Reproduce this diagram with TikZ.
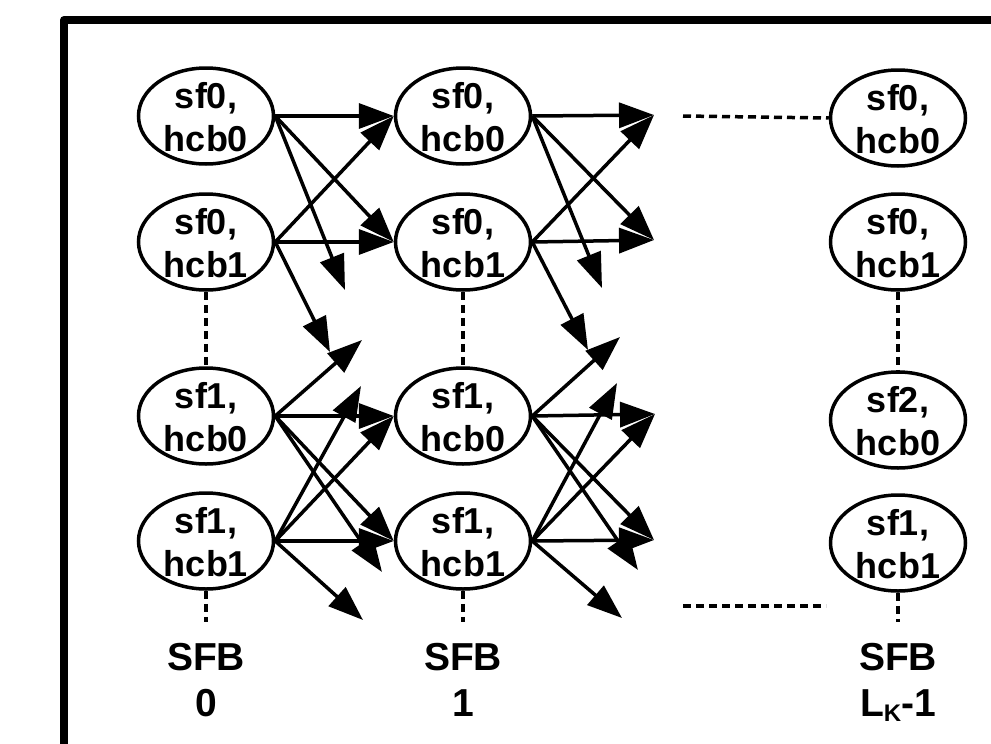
\documentclass[tikz,border=0pt]{standalone}
\usepackage{fontspec}
\setmainfont{Liberation Sans}
\usetikzlibrary{shapes.geometric,arrows.meta}
\begin{document}
\begin{tikzpicture}[x=1pt,y=-1pt,
 ell/.style={ellipse,draw,line width=3.5pt,minimum width=135pt,minimum height=96pt,inner sep=0pt},
 txt/.style={inner sep=0pt,align=center,yshift=-1.5pt,font=\fontsize{36}{43}\selectfont\bfseries},
 lab/.style={inner sep=0pt,align=center,anchor=north,font=\fontsize{39}{46}\selectfont\bfseries},
 arr/.style={line width=3.5pt,-{Triangle[length=35pt,width=25pt]}},
 dots/.style={line width=3.5pt,dash pattern=on 8pt off 5pt}]
\useasboundingbox (0,0) rectangle (991,744);
\draw[line width=8pt,line join=round] (64,790) -- (64,20) -- (1030,20);
% column 0
\node[ell] (a1) at (206,116) {}; \node[txt] (a1t) at (a1.center) {sf0,\\hcb0};
\node[ell] (a2) at (206,242) {}; \node[txt] (a2t) at (a2.center) {sf0,\\hcb1};
\node[ell] (a3) at (206,416) {}; \node[txt] (a3t) at (a3.center) {sf1,\\hcb0};
\node[ell] (a4) at (206,541) {}; \node[txt] (a4t) at (a4.center) {sf1,\\hcb1};
% column 1
\node[ell] (b1) at (463,116) {}; \node[txt] (b1t) at (b1.center) {sf0,\\hcb0};
\node[ell] (b2) at (463,242) {}; \node[txt] (b2t) at (b2.center) {sf0,\\hcb1};
\node[ell] (b3) at (463,416) {}; \node[txt] (b3t) at (b3.center) {sf1,\\hcb0};
\node[ell] (b4) at (463,541) {}; \node[txt] (b4t) at (b4.center) {sf1,\\hcb1};
% column 2
\node[ell] (c1) at (898,118) {}; \node[txt] (c1t) at (c1.center) {sf0,\\hcb0};
\node[ell] (c2) at (898,242) {}; \node[txt] (c2t) at (c2.center) {sf0,\\hcb1};
\node[ell] (c3) at (898,420) {}; \node[txt] (c3t) at (c3.center) {sf2,\\hcb0};
\node[ell] (c4) at (898,543) {}; \node[txt] (c4t) at (c4.center) {sf1,\\hcb1};
% labels
\node[lab] (l0) at (206,643) {SFB\\0};
\node[lab] (l1) at (463,643) {SFB\\1};
\node[lab] (l2) at (898,643) {SFB\\L{\fontsize{24}{24}\selectfont\raisebox{-5pt}{K}}-1};
% free ends
\coordinate (p1) at (345,290);
\coordinate (p2) at (330,352);
\coordinate (p3) at (362,340);
\coordinate (p4) at (382,572);
\coordinate (p5) at (361,386);
\coordinate (p6) at (363,620);
\coordinate (t1) at (654,115);
\coordinate (t2) at (654,240);
\coordinate (t3) at (655,414);
\coordinate (t4) at (654,540);
\coordinate (q1) at (602,288);
\coordinate (q2) at (588,350);
\coordinate (q3) at (620,337);
\coordinate (q4) at (638,570);
\coordinate (q5) at (617,383);
\coordinate (q6) at (622,618);
% column 0 arrows
\draw[arr] (a1.east) -- (b1.west);
\draw[arr] (a1.east) -- (b2.west);
\draw[arr] (a1.east) -- (p1);
\draw[arr] (a2.east) -- (b1.west);
\draw[arr] (a2.east) -- (b2.west);
\draw[arr] (a2.east) -- (p2);
\draw[arr] (a3.east) -- (p3);
\draw[arr] (a3.east) -- (b3.west);
\draw[arr] (a3.east) -- (b4.west);
\draw[arr] (a3.east) -- (p4);
\draw[arr] (a4.east) -- (b4.west);
\draw[arr] (a4.east) -- (b3.west);
\draw[arr] (a4.east) -- (p5);
\draw[arr] (a4.east) -- (p6);
% column 1 arrows
\draw[arr] (b1.east) -- (t1);
\draw[arr] (b1.east) -- (t2);
\draw[arr] (b1.east) -- (q1);
\draw[arr] (b2.east) -- (t1);
\draw[arr] (b2.east) -- (t2);
\draw[arr] (b2.east) -- (q2);
\draw[arr] (b3.east) -- (q3);
\draw[arr] (b3.east) -- (t3);
\draw[arr] (b3.east) -- (t4);
\draw[arr] (b3.east) -- (q4);
\draw[arr] (b4.east) -- (t4);
\draw[arr] (b4.east) -- (t3);
\draw[arr] (b4.east) -- (q5);
\draw[arr] (b4.east) -- (q6);
% dotted lines
\coordinate (d0) at (206,622);
\coordinate (d1) at (463,622);
\coordinate (d2) at (898,622);
\coordinate (h1) at (683,116);
\coordinate (h2) at (683,606);
\coordinate (h3) at (826,606);
\draw[dots] (a2.south) -- (a3.north);
\draw[dots] (a4.south) -- (d0);
\draw[dots] (b2.south) -- (b3.north);
\draw[dots] (b4.south) -- (d1);
\draw[dots] (c2.south) -- (c3.north);
\draw[dots] (c4.south) -- (d2);
\draw[dots] (h1) -- (c1.west);
\draw[dots] (h2) -- (h3);
\end{tikzpicture}
\end{document}
